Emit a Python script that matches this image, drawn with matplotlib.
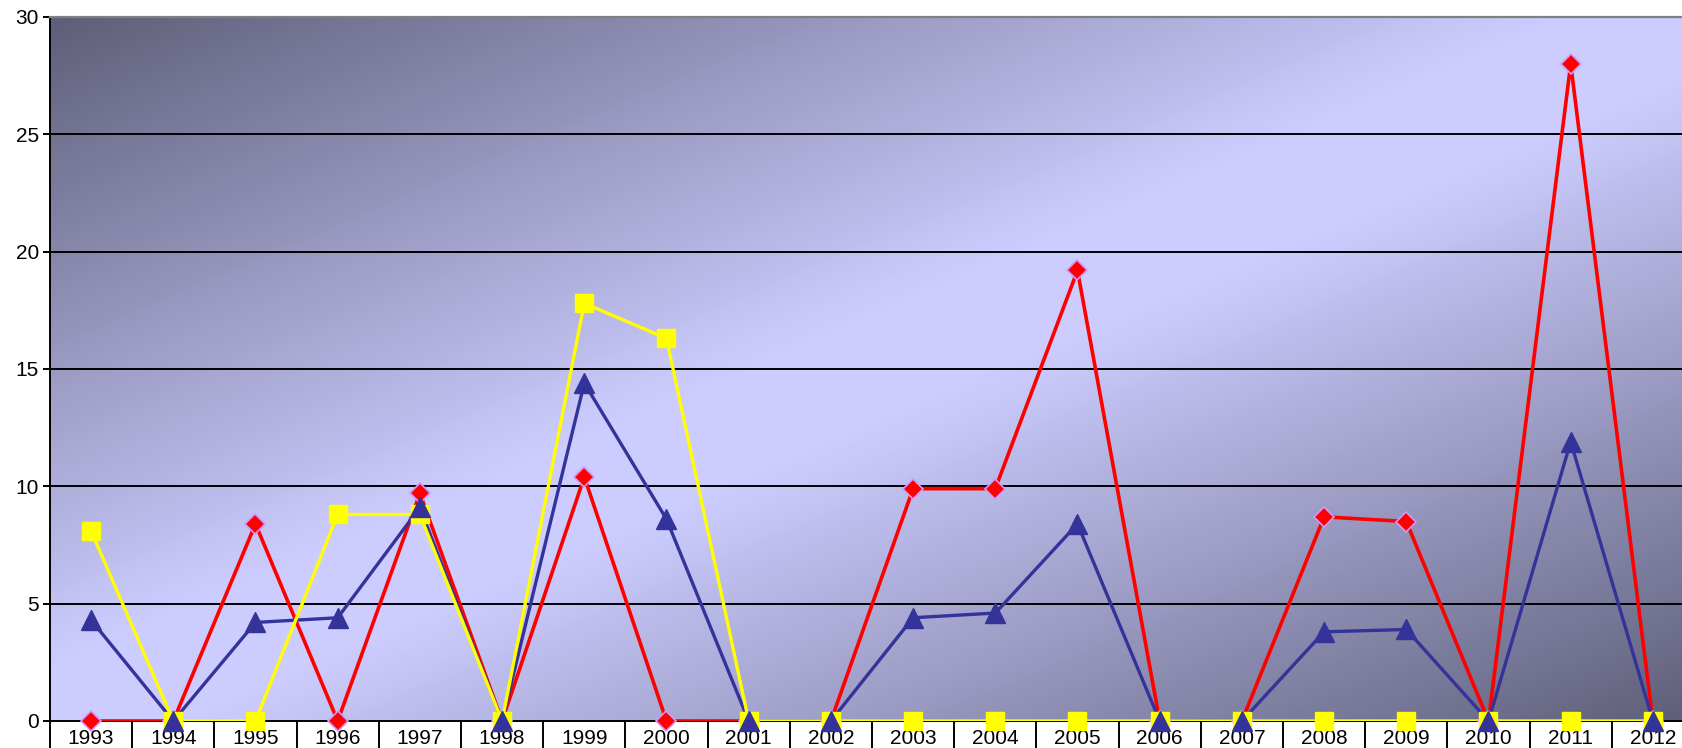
import matplotlib.pyplot as plt
import numpy as np
from matplotlib.colors import LinearSegmentedColormap

plt.rcParams['font.family'] = ['Liberation Sans', 'DejaVu Sans']

years = [str(y) for y in range(1993, 2013)]

red_vals = [0, 0, 8.4, 0, 9.7, 0, 10.4, 0, 0, 0,
            9.9, 9.9, 19.2, 0, 0, 8.7, 8.5, 0, 28.0, 0]
yellow_vals = [8.1, 0, 0, 8.8, 8.8, 0, 17.8, 16.3, 0, 0,
               0, 0, 0, 0, 0, 0, 0, 0, 0, 0]
blue_vals = [4.3, 0, 4.2, 4.4, 9.1, 0, 14.4, 8.6, 0, 0,
             4.4, 4.6, 8.4, 0, 0, 3.8, 3.9, 0, 11.9, 0]

W, H = 1683, 748
fig = plt.figure(figsize=(W / 100, H / 100), dpi=100)
# plot area runs past the right edge of the picture, like the original crop
ax = fig.add_axes([50 / W, 27 / H, 1644 / W, 704 / H])

# diagonal gradient: dark corners top-left / bottom-right, light band in the middle
dark = (95 / 255, 95 / 255, 122 / 255)
light = (204 / 255, 204 / 255, 255 / 255)
cmap = LinearSegmentedColormap.from_list(
    'bg', [(0, dark), (0.46, light), (0.54, light), (1, dark)])
u, v = np.meshgrid(np.linspace(0, 1, 400), np.linspace(0, 1, 200))
t = (u + v) / 2
ax.imshow(t, cmap=cmap, vmin=0, vmax=1, extent=(0, 1, 0, 1),
          transform=ax.transAxes, aspect='auto', origin='upper', zorder=0)

x = np.arange(len(years))

# lines
ax.plot(x, red_vals, color='#FF0000', lw=2.6, zorder=3)
ax.plot(x, blue_vals, color='#333399', lw=2.4, zorder=3.1)
ax.plot(x, yellow_vals, color='#FFFF00', lw=2.4, zorder=3.2)
# markers (not clipped, so the ones sitting on 0 show whole)
ax.plot(x, red_vals, ls='none', marker='D', ms=10, mfc='#FF0000',
        mec='#CC99FF', mew=1.2, zorder=4, clip_on=False)
ax.plot(x, yellow_vals, ls='none', marker='s', ms=13, mfc='#FFFF00',
        mec='#FFFF00', zorder=4.1, clip_on=False)
ax.plot(x, blue_vals, ls='none', marker='^', ms=15, mfc='#333399',
        mec='#333399', zorder=4.2, clip_on=False)

ax.set_xlim(-0.5, 19.5)
ax.set_ylim(0, 30)

ax.set_yticks(np.arange(0, 31, 5))
for yv in range(5, 30, 5):
    ax.axhline(yv, color='black', lw=1.4, zorder=1)

# category axis: ticks between categories, labels in the middle
ax.set_xticks(np.arange(-0.5, 20, 1))
ax.set_xticklabels([])
ax.set_xticks(x, minor=True)
ax.set_xticklabels(years, minor=True, fontsize=15)
ax.tick_params(axis='x', which='major', direction='out', length=22, width=1.4)
ax.tick_params(axis='x', which='minor', length=0, pad=6)
ax.tick_params(axis='y', direction='out', length=5, width=1.4, labelsize=15, pad=3)

for side in ['left', 'bottom']:
    ax.spines[side].set_color('black')
    ax.spines[side].set_linewidth(1.4)
ax.spines['top'].set_color('#808080')
ax.spines['top'].set_linewidth(1.6)
ax.spines['right'].set_visible(False)

fig.savefig('out.png', dpi=100)
